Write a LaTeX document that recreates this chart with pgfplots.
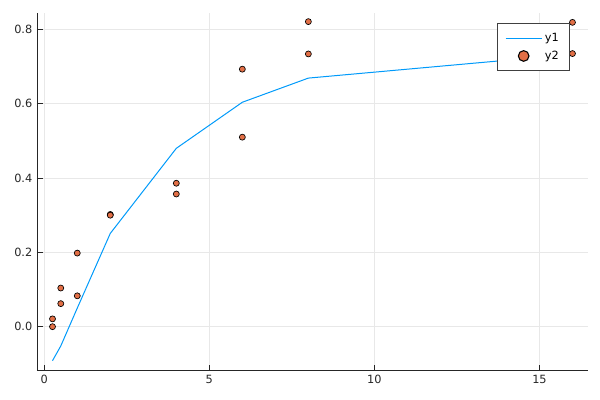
\documentclass[border=0pt]{standalone}
\usepackage{pgfplots}
\pgfplotsset{compat=1.18}
\usepackage{fontspec}
\setmainfont{DejaVu Sans}
\definecolor{juliablue}{HTML}{009AFA}
\definecolor{juliaorange}{HTML}{E26F46}
\begin{document}
\begin{tikzpicture}
\useasboundingbox (-27.75pt,-21.975pt) rectangle (422.25pt,278.025pt);
\begin{axis}[
  at={(0pt,0pt)}, anchor=south west,
  scale only axis, width=413.25pt, height=268.5pt,
  xmin=-0.22, xmax=16.47, ymin=-0.1185, ymax=0.845,
  axis lines*=left,
  axis line style={black!85, line width=0.7pt},
  xtick={0,5,10,15},
  ytick={0,0.2,0.4,0.6,0.8},
  yticklabel style={/pgf/number format/fixed, /pgf/number format/fixed zerofill, /pgf/number format/precision=1},
  /pgf/number format/assume math mode=true,
  tick label style={font=\fontsize{8.5}{10}\selectfont, black!85},
  tick align=inside, major tick length=4.5pt,
  tick style={black!85, line width=0.6pt},
  grid=major, grid style={black!9, line width=0.5pt},
  clip mode=individual,
  legend style={at={(0.967,0.970)}, anchor=north east, draw=black!75, line width=0.6pt,
    fill=white, font=\fontsize{8.5}{10}\selectfont, inner xsep=6pt, inner ysep=5pt, row sep=1.5pt},
  legend cell align=left,
]
\addplot[juliablue, line width=0.75pt,
  legend image code/.code={\draw[juliablue,line width=0.75pt] (0pt,0pt) -- (27pt,0pt);}]
coordinates {(0.25,-0.0915) (0.5,-0.052) (1,0.05) (2,0.251) (4,0.480) (6,0.604) (8,0.669) (16,0.733)};
\addlegendentry{y1}
\addplot[only marks, mark=*, mark size=2.25pt,
  mark options={fill=juliaorange, draw=black, line width=0.5pt},
  legend image code/.code={\path[draw=none,fill=none] (0pt,0pt) -- (27pt,0pt); \draw[fill=juliaorange,draw=black,line width=0.8pt] (13.5pt,0pt) circle (4pt);}]
coordinates {(0.25,0.021) (0.25,0.0) (0.5,0.104) (0.5,0.062) (1,0.198) (1,0.083) (2,0.302) (2,0.300) (4,0.386) (4,0.357) (6,0.693) (6,0.510) (8,0.821) (8,0.734) (16,0.819) (16,0.735)};
\addlegendentry{y2}
\end{axis}
\end{tikzpicture}
\end{document}
